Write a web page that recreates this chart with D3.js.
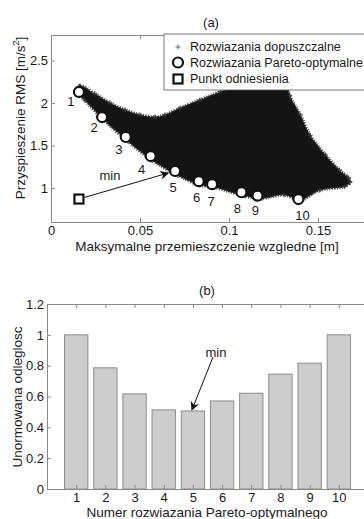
<!DOCTYPE html>
<html>
<head>
<meta charset="utf-8">
<script src="https://cdn.jsdelivr.net/npm/d3@7"></script>
<style>
  body { margin: 0; background: #fff; }
  svg { display: block; font-family: "Liberation Sans", Arial, sans-serif; }
</style>
</head>
<body>
<div id="chart"></div>
<script>
// ---- data ----
// feasible solutions cloud, outline (upper edge left->right, then lower edge right->left)
var cloudX = [0.0146, 0.0163, 0.0247, 0.0331, 0.0416, 0.050, 0.0584, 0.064, 0.0725, 0.0837, 0.095, 0.106, 0.117, 0.126,
              0.131, 0.134, 0.140, 0.1455, 0.154, 0.162, 0.167, 0.168,
              0.165, 0.151, 0.140, 0.131, 0.1185, 0.109, 0.092, 0.0837, 0.0713, 0.0567, 0.0433, 0.0298, 0.019];
var cloudY = [2.13, 2.20, 2.106, 2.00, 1.918, 1.859, 1.835, 1.859, 1.94, 2.035, 2.13, 2.21, 2.33, 2.44,
              2.36, 2.09, 1.86, 1.62, 1.39, 1.21, 1.12, 1.07,
              1.02, 0.976, 0.86, 0.92, 0.88, 0.906, 1.01, 1.035, 1.15, 1.33, 1.55, 1.80, 2.035];

var paretoX = [0.0157, 0.0287, 0.042, 0.056, 0.0697, 0.083, 0.0905, 0.107, 0.116, 0.139];
var paretoY = [2.13, 1.835, 1.60, 1.376, 1.20, 1.08, 1.045, 0.95, 0.91, 0.87];
var paretoLabels = ["1", "2", "3", "4", "5", "6", "7", "8", "9", "10"];
var refPoint = [0.0157, 0.87];

var xTicksA = [0, 0.05, 0.1, 0.15];
var yTicksA = [1, 1.5, 2, 2.5];

var barNames = [1, 2, 3, 4, 5, 6, 7, 8, 9, 10];
var barValues = [1.0, 0.786, 0.617, 0.513, 0.506, 0.571, 0.621, 0.745, 0.816, 1.0];
var yTicksB = [0, 0.2, 0.4, 0.6, 0.8, 1, 1.2];

var legendItems = ["Rozwiazania dopuszczalne", "Rozwiazania Pareto-optymalne", "Punkt odniesienia"];

// pixel nudges for the pareto numbers
var labelOffsets = [[-8, 10], [-8, 10], [-7, 12], [-9, 13], [-2, 16], [-2, 16], [-1, 17], [-4, 16], [-2, 15], [4, 16]];

var W = 364, H = 519;
var axisColor = "#8a8a8a", textColor = "#1a1a1a";

var svg = d3.select("#chart").append("svg")
  .attr("width", W).attr("height", H);

svg.append("defs").append("marker")
  .attr("id", "arrow")
  .attr("viewBox", "0 0 10 10")
  .attr("refX", 9).attr("refY", 5)
  .attr("markerWidth", 9).attr("markerHeight", 9)
  .attr("markerUnits", "userSpaceOnUse")
  .attr("orient", "auto")
  .append("path")
  .attr("d", "M0,0 L10,5 L0,10 L3,5 Z")
  .attr("fill", "#111");

function styleAxis(g) {
  g.selectAll(".domain").attr("stroke", axisColor);
  g.selectAll(".tick line").attr("stroke", axisColor);
  g.selectAll("text").attr("fill", textColor).style("font-size", "13px");
}

function fmt(d) { return String(d); }

// ================= (a) scatter =================
var xA = d3.scaleLinear().domain([0, 0.18]).range([51, 371.4]);
var yA = d3.scaleLinear().domain([0.6, 2.8]).range([222, 35]);

var gA = svg.append("g");

var cloudPts = cloudX.map(function(d, i) { return [d, cloudY[i]]; });
var cloudPath = d3.line().x(function(d) { return xA(d[0]); }).y(function(d) { return yA(d[1]); })
    .curve(d3.curveCatmullRomClosed)(cloudPts);
// fuzzy rim
gA.append("path")
  .attr("d", cloudPath)
  .attr("fill", "none")
  .attr("stroke", "#666")
  .attr("stroke-width", 4)
  .attr("stroke-dasharray", "1,1.5");
gA.append("path")
  .attr("d", cloudPath)
  .attr("fill", "#141414")
  .attr("stroke", "#2a2a2a")
  .attr("stroke-width", 1.5)
  .attr("stroke-dasharray", "2,1");

gA.selectAll(".plus").data(cloudPts).enter().append("path")
  .attr("class", "plus")
  .attr("transform", function(d) { return "translate(" + xA(d[0]) + "," + yA(d[1]) + ")"; })
  .attr("d", "M-2.5,0H2.5M0,-2.5V2.5")
  .attr("stroke", "#333").attr("stroke-width", 1);

// axes with inside ticks (box)
gA.append("g").attr("transform", "translate(0," + yA(0.6) + ")")
  .call(d3.axisBottom(xA).tickValues(xTicksA).tickFormat(fmt).tickSize(-4).tickSizeOuter(0).tickPadding(4))
  .call(styleAxis);
gA.append("g").attr("transform", "translate(0," + yA(2.8) + ")")
  .call(d3.axisTop(xA).tickValues(xTicksA).tickFormat("").tickSize(-4).tickSizeOuter(0))
  .call(styleAxis);
gA.append("g").attr("transform", "translate(" + xA(0) + ",0)")
  .call(d3.axisLeft(yA).tickValues(yTicksA).tickFormat(fmt).tickSize(-4).tickSizeOuter(0).tickPadding(3))
  .call(styleAxis);

// arrow reference point -> pareto 5
var p5 = [xA(paretoX[4]), yA(paretoY[4])];
var r0 = [xA(refPoint[0]), yA(refPoint[1])];
var ang = Math.atan2(p5[1] - r0[1], p5[0] - r0[0]);
gA.append("line")
  .attr("x1", r0[0] + 6 * Math.cos(ang)).attr("y1", r0[1] + 6 * Math.sin(ang))
  .attr("x2", p5[0] - 7 * Math.cos(ang)).attr("y2", p5[1] - 7 * Math.sin(ang))
  .attr("stroke", "#111").attr("stroke-width", 1)
  .attr("marker-end", "url(#arrow)");

gA.selectAll(".pareto").data(paretoX).enter().append("circle")
  .attr("class", "pareto")
  .attr("cx", function(d) { return xA(d); })
  .attr("cy", function(d, i) { return yA(paretoY[i]); })
  .attr("r", 5)
  .attr("fill", "#fff").attr("stroke", "#111").attr("stroke-width", 2.2);

gA.selectAll(".plabel").data(paretoLabels).enter().append("text")
  .attr("class", "plabel")
  .attr("x", function(d, i) { return xA(paretoX[i]) + labelOffsets[i][0]; })
  .attr("y", function(d, i) { return yA(paretoY[i]) + labelOffsets[i][1]; })
  .attr("text-anchor", "middle").attr("dominant-baseline", "central")
  .style("font-size", "13px").attr("fill", textColor)
  .text(function(d) { return d; });

gA.append("rect")
  .attr("x", r0[0] - 4.5).attr("y", r0[1] - 4.5)
  .attr("width", 9).attr("height", 9)
  .attr("fill", "none").attr("stroke", "#111").attr("stroke-width", 2.2);

gA.append("text").attr("x", 110).attr("y", 175)
  .attr("text-anchor", "middle").attr("dominant-baseline", "central")
  .style("font-size", "13px").attr("fill", textColor).text("min");

// legend
var leg = gA.append("g").attr("transform", "translate(164,34)");
leg.append("rect").attr("width", 220).attr("height", 56)
  .attr("fill", "#fff").attr("stroke", "#555").attr("stroke-width", 0.8);
var legRows = [13, 28.5, 45];
leg.selectAll(".lt").data(legendItems).enter().append("text")
  .attr("class", "lt")
  .attr("x", 26).attr("y", function(d, i) { return legRows[i]; })
  .attr("dominant-baseline", "central")
  .style("font-size", "12.5px").attr("fill", textColor)
  .text(function(d) { return d; });
leg.append("path").attr("transform", "translate(14," + legRows[0] + ")")
  .attr("d", "M-2.5,0H2.5M0,-2.5V2.5").attr("stroke", "#666").attr("stroke-width", 1);
leg.append("circle").attr("cx", 14).attr("cy", legRows[1]).attr("r", 5)
  .attr("fill", "none").attr("stroke", "#111").attr("stroke-width", 2.2);
leg.append("rect").attr("x", 9.5).attr("y", legRows[2] - 4.5).attr("width", 9).attr("height", 9)
  .attr("fill", "none").attr("stroke", "#111").attr("stroke-width", 2.2);

// titles / labels
svg.append("text").attr("x", 211).attr("y", 22)
  .attr("text-anchor", "middle").attr("dominant-baseline", "central")
  .style("font-size", "13px").attr("fill", textColor).text("(a)");
svg.append("text").attr("x", 207).attr("y", 251)
  .attr("text-anchor", "middle")
  .style("font-size", "13.5px").attr("fill", textColor).text("Maksymalne przemieszczenie wzgledne [m]");
var yl = svg.append("text")
  .attr("transform", "translate(25,118) rotate(-90)")
  .attr("text-anchor", "middle")
  .style("font-size", "13.5px").attr("fill", textColor);
yl.append("tspan").text("Przyspieszenie RMS [m/s");
yl.append("tspan").attr("dy", -6).style("font-size", "9px").text("2");
yl.append("tspan").attr("dy", 6).text("]");

// ================= (b) bars =================
var xB = d3.scaleLinear().domain([0, 11]).range([47, 368]);
var yB = d3.scaleLinear().domain([0, 1.2]).range([489, 304]);
var bw = 0.8;

var gB = svg.append("g");
gB.selectAll(".bar").data(barValues).enter().append("rect")
  .attr("class", "bar")
  .attr("x", function(d, i) { return xB(barNames[i] - bw / 2); })
  .attr("width", xB(bw) - xB(0))
  .attr("y", function(d) { return yB(d); })
  .attr("height", function(d) { return yB(0) - yB(d); })
  .attr("fill", "#cdcdcd").attr("stroke", "#8c8c8c").attr("stroke-width", 1);

gB.append("g").attr("transform", "translate(0," + yB(0) + ")")
  .call(d3.axisBottom(xB).tickValues(barNames).tickFormat(fmt).tickSize(-4).tickSizeOuter(0).tickPadding(4))
  .call(styleAxis);
gB.append("g").attr("transform", "translate(0," + yB(1.2) + ")")
  .call(d3.axisTop(xB).tickValues(barNames).tickFormat("").tickSize(-4).tickSizeOuter(0))
  .call(styleAxis);
gB.append("g").attr("transform", "translate(" + xB(0) + ",0)")
  .call(d3.axisLeft(yB).tickValues(yTicksB).tickFormat(fmt).tickSize(-4).tickSizeOuter(0).tickPadding(3))
  .call(styleAxis);

// min arrow to bar 5
gB.append("line")
  .attr("x1", 213).attr("y1", 357)
  .attr("x2", xB(5) - 1).attr("y2", yB(barValues[4]) - 1)
  .attr("stroke", "#111").attr("stroke-width", 1)
  .attr("marker-end", "url(#arrow)");
gB.append("text").attr("x", 216).attr("y", 352)
  .attr("text-anchor", "middle").attr("dominant-baseline", "central")
  .style("font-size", "13px").attr("fill", textColor).text("min");

svg.append("text").attr("x", 207).attr("y", 290)
  .attr("text-anchor", "middle").attr("dominant-baseline", "central")
  .style("font-size", "13px").attr("fill", textColor).text("(b)");
svg.append("text").attr("x", 207).attr("y", 517)
  .attr("text-anchor", "middle")
  .style("font-size", "13.5px").attr("fill", textColor).text("Numer rozwiazania Pareto-optymalnego");
svg.append("text")
  .attr("transform", "translate(22,397) rotate(-90)")
  .attr("text-anchor", "middle")
  .style("font-size", "13.5px").attr("fill", textColor).text("Unormowana odleglosc");
</script>
</body>
</html>
